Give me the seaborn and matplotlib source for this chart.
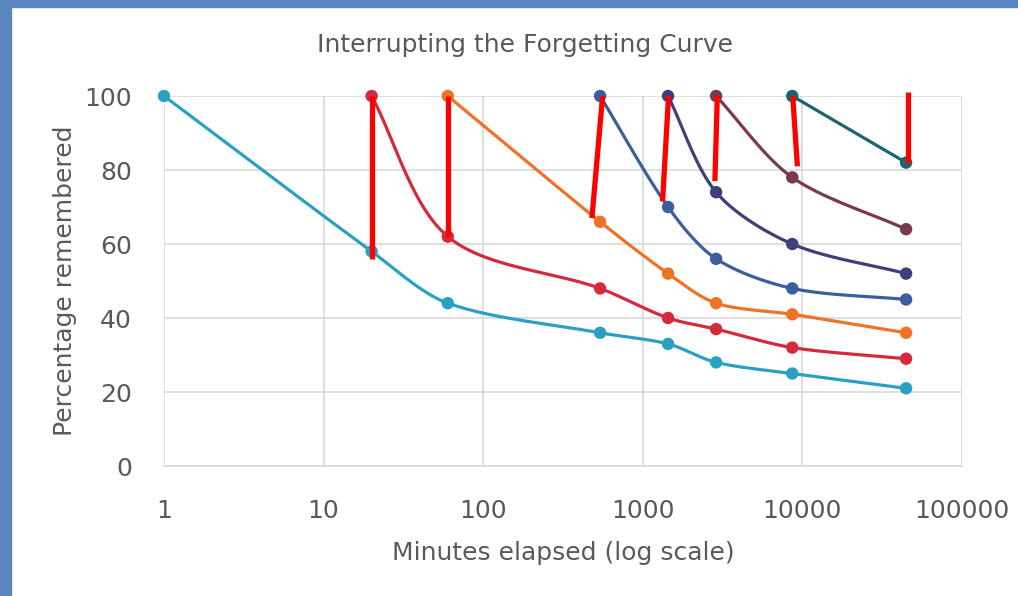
import numpy as np
import pandas as pd
import matplotlib
matplotlib.use("Agg")
import matplotlib.pyplot as plt
import seaborn as sns
from matplotlib.patches import Rectangle

# ---- data (minutes elapsed, percentage remembered) ----
minutes = [1, 20, 60, 540, 1440, 2880, 8640, 44640]
s1 = [100, 58, 44, 36, 33, 28, 25, 21]
s2 = [None, 100, 62, 48, 40, 37, 32, 29]
s3 = [None, None, 100, 66, 52, 44, 41, 36]
s4 = [None, None, None, 100, 70, 56, 48, 45]
s5 = [None, None, None, None, 100, 74, 60, 52]
s6 = [None, None, None, None, None, 100, 78, 64]
s7 = [None, None, None, None, None, None, 100, 82]
series = [s1, s2, s3, s4, s5, s6, s7]
series_names = ["Original", "Review 1", "Review 2", "Review 3", "Review 4", "Review 5", "Review 6"]
colors = ["#2BA1C2", "#D42A3B", "#EE7326", "#3B5E9E", "#3F4079", "#7A3A4C", "#1C6372"]

# red hand-drawn review strokes: (x_top, y_top, x_bottom, y_bottom)
rev_x_top = [20, 60, 560, 1450, 2930, 8700, 46000]
rev_y_top = [100, 100, 100, 100, 100, 100, 101]
rev_x_bot = [20, 60, 480, 1330, 2830, 9300, 46000]
rev_y_bot = [56, 62, 67, 71.5, 77, 81, 82]

x_ticks = [1, 10, 100, 1000, 10000, 100000]
x_tick_labels = ["1", "10", "100", "1000", "10000", "100000"]
y_ticks = [0, 20, 40, 60, 80, 100]

PX_DECADE, PX_UNIT = 159.6, 3.7


def smooth(xs, ys, n=30, k=0.3):
    """Excel-like smoothed line (chord-scaled Bezier) computed in screen-like space."""
    lx = np.log10(np.asarray(xs, float)) * PX_DECADE
    y = np.asarray(ys, float) * PX_UNIT
    P = np.column_stack([lx, y])
    if len(P) < 3:
        return list(xs), list(ys)

    def tangent(i):
        a = P[i - 1] if i > 0 else P[i]
        b = P[i + 1] if i + 1 < len(P) else P[i]
        d = b - a
        return d / np.linalg.norm(d)

    out = [P[0]]
    for i in range(len(P) - 1):
        p1, p2 = P[i], P[i + 1]
        L = np.linalg.norm(p2 - p1)
        c1 = p1 + tangent(i) * L * k
        c2 = p2 - tangent(i + 1) * L * k
        t = np.linspace(0, 1, n)[1:, None]
        pts = ((1 - t) ** 3) * p1 + 3 * ((1 - t) ** 2) * t * c1 + 3 * (1 - t) * t ** 2 * c2 + t ** 3 * p2
        out.extend(pts)
    out = np.array(out)
    return 10 ** (out[:, 0] / PX_DECADE), out[:, 1] / PX_UNIT


rows_pts, rows_line = [], []
for name, vals in zip(series_names, series):
    xs = [m for m, v in zip(minutes, vals) if v is not None]
    ys = [v for v in vals if v is not None]
    for x, y in zip(xs, ys):
        rows_pts.append({"series": name, "x": x, "y": y})
    sx, sy = smooth(xs, ys)
    for x, y in zip(sx, sy):
        rows_line.append({"series": name, "x": x, "y": y})
pts = pd.DataFrame(rows_pts)
lines = pd.DataFrame(rows_line)

sns.set_theme(style="white")
plt.rcParams["font.family"] = ["DejaVu Sans"]

fig = plt.figure(figsize=(10.18, 5.96), dpi=100)
fig.patch.set_facecolor("white")
# slide frame
fig.add_artist(Rectangle((0, 0), 11 / 1018, 1, transform=fig.transFigure, color="#5B86C0", zorder=0))
fig.add_artist(Rectangle((0, 1 - 7 / 596), 1, 7 / 596, transform=fig.transFigure, color="#5B86C0", zorder=0))

ax = fig.add_axes([164 / 1018, (596 - 466) / 596, (962 - 164) / 1018, 370 / 596])
ax.set_xscale("log")

palette = dict(zip(series_names, colors))
sns.lineplot(data=lines, x="x", y="y", hue="series", units="series", estimator=None, sort=False,
             palette=palette, linewidth=2.3, legend=False, ax=ax, zorder=3)
for line in ax.lines:
    line.set_clip_on(False)
sns.scatterplot(data=pts, x="x", y="y", hue="series", palette=palette, s=80, edgecolor="none",
                legend=False, ax=ax, zorder=4, clip_on=False)

for xt, yt, xb, yb in zip(rev_x_top, rev_y_top, rev_x_bot, rev_y_bot):
    ax.plot([xt, xb], [yt, yb], color="#FF0000", linewidth=3.8, solid_capstyle="butt", zorder=6, clip_on=False)

ax.set_xlim(1, 100000)
ax.set_ylim(0, 100)
ax.set_xticks(x_ticks)
ax.set_xticklabels(x_tick_labels)
ax.minorticks_off()
ax.set_yticks(y_ticks)
ax.grid(True, color="#D9D9D9", linewidth=1.2)
ax.set_axisbelow(True)
for side in ["top", "right", "left"]:
    ax.spines[side].set_visible(False)
ax.spines["bottom"].set_color("#D9D9D9")
ax.spines["bottom"].set_linewidth(1.2)
ax.tick_params(axis="both", length=0, labelsize=18, colors="#595959")
ax.tick_params(axis="x", pad=24)
ax.tick_params(axis="y", pad=23)
ax.set_xlabel("Minutes elapsed (log scale)", fontsize=18, color="#595959", va="center")
ax.set_ylabel("Percentage remembered", fontsize=18, color="#595959", va="center")
ax.xaxis.set_label_coords(0.5, (466 - 553) / 370)
ax.yaxis.set_label_coords((65 - 164) / 798, 0.5)
fig.text(525 / 1018, 1 - 45 / 596, "Interrupting the Forgetting Curve", ha="center", va="center",
         fontsize=18, color="#595959")

fig.savefig("out.png", dpi=100)
